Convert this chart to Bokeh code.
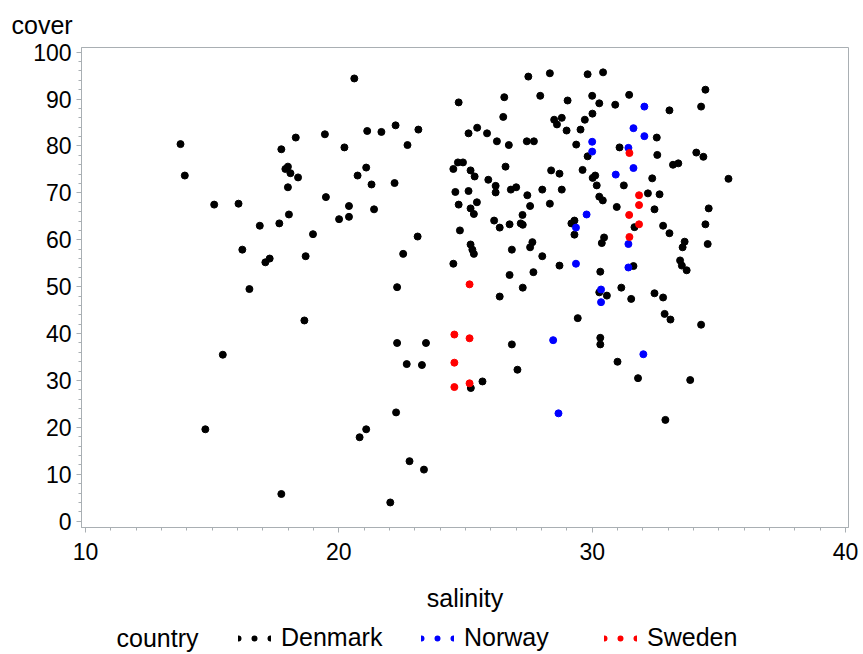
from bokeh.plotting import figure
from bokeh.models import Range1d, FixedTicker, Label, Legend, LegendItem
from bokeh.layouts import column
from bokeh.embed import file_html
from bokeh.resources import INLINE

# ---------------- data ----------------
x_ticks = [10, 20, 30, 40]
y_ticks = [0, 10, 20, 30, 40, 50, 60, 70, 80, 90, 100]
countries = ["Denmark", "Norway", "Sweden"]

dk_salinity = [13.75, 13.92, 15.08, 16.04, 16.88, 17.65, 18.03, 16.19, 17.10, 17.27,
               18.69, 18.98, 19.49, 20.01, 17.73, 18.30, 19.45, 17.89, 17.99, 18.09,
               18.39, 17.99, 16.47, 18.64, 15.42, 14.73, 17.73, 20.61, 24.73, 26.53,
               26.49, 27.48, 28.33, 29.82, 27.95, 29.03, 28.50, 28.61, 28.80, 28.99,
               29.71, 29.54, 21.12, 21.68, 22.24, 23.14, 20.22, 22.71, 25.12, 25.46,
               25.85, 26.24, 26.71, 27.42, 27.70, 29.37, 29.82, 21.08, 20.74, 21.29,
               22.20, 20.40, 20.40, 21.39, 23.11, 22.54, 22.30, 24.70, 24.90, 24.52,
               25.20, 25.36, 25.90, 26.58, 26.19, 26.19, 26.79, 27.00, 27.44, 28.03,
               28.38, 28.71, 28.80, 29.62, 24.60, 25.12, 24.73, 25.20, 25.45, 25.33,
               27.55, 28.33, 27.25, 26.13, 26.35, 26.74, 27.18, 27.26, 24.78, 25.20,
               25.27, 25.33, 26.83, 27.55, 27.64, 28.03, 28.71, 24.52, 26.74, 27.68,
               27.26, 29.18, 29.30, 29.30, 30.32, 30.02, 30.12, 30.18, 30.28, 30.42,
               30.97, 31.25, 31.08, 31.67, 31.63, 30.38, 30.47, 30.43, 30.00, 30.28,
               30.91, 31.46, 30.01, 33.05, 34.47, 34.30, 32.55, 32.57, 34.11, 34.39,
               33.19, 33.40, 32.37, 35.38, 32.20, 32.66, 32.46, 34.60, 32.80, 33.05,
               34.47, 33.65, 33.57, 34.56, 33.47, 33.54, 33.73, 31.15, 30.28, 30.58,
               31.54, 32.46, 32.80, 32.86, 33.09, 34.30, 29.43, 30.32, 30.32, 31.00,
               31.81, 33.87, 32.89, 26.35, 22.30, 23.44, 26.83, 22.68, 23.28, 27.05,
               25.67, 25.21, 22.26, 21.08, 20.82, 22.79, 23.36, 22.03]
dk_cover = [80.4, 73.7, 67.5, 67.7, 63.0, 63.5, 65.4, 57.9, 55.2, 56.0,
            56.5, 61.2, 69.1, 64.4, 79.3, 81.8, 82.5, 75.1, 75.6, 74.2,
            73.3, 71.2, 49.5, 42.8, 35.5, 19.6, 5.8, 94.4, 89.3, 90.4,
            86.2, 94.8, 95.5, 95.3, 90.7, 89.7, 85.6, 84.6, 86.0, 83.3,
            85.6, 83.5, 83.2, 83.0, 84.4, 83.5, 79.7, 80.2, 82.7, 83.9,
            82.7, 81.0, 80.2, 81.0, 81.0, 80.3, 77.8, 75.4, 73.7, 71.8,
            72.1, 67.2, 64.9, 66.5, 60.7, 57.0, 49.9, 76.5, 76.5, 75.1,
            74.8, 73.5, 72.8, 75.6, 71.5, 70.1, 70.7, 71.2, 69.5, 70.7,
            74.8, 74.1, 70.7, 74.9, 70.2, 70.4, 67.5, 66.7, 68.0, 65.5,
            67.2, 67.7, 65.3, 64.1, 62.6, 63.3, 63.5, 63.2, 62.0, 59.0,
            57.9, 57.0, 57.9, 58.4, 59.5, 56.5, 54.5, 54.9, 52.5, 53.1,
            49.8, 63.5, 64.1, 61.1, 53.2, 73.2, 73.7, 71.6, 69.2, 68.4,
            67.0, 71.6, 79.7, 62.7, 54.4, 59.3, 60.5, 95.7, 90.7, 89.1,
            88.8, 90.9, 86.9, 87.6, 92.0, 88.4, 81.8, 78.1, 78.6, 77.7,
            76.0, 76.3, 73.1, 73.0, 69.9, 69.7, 66.5, 66.7, 63.0, 61.4,
            63.3, 59.6, 58.4, 59.1, 55.6, 54.5, 53.5, 49.8, 48.8, 48.1,
            47.4, 48.6, 47.7, 44.2, 43.0, 41.9, 43.3, 39.1, 37.7, 34.0,
            30.5, 30.1, 21.6, 47.9, 38.0, 38.0, 37.7, 33.5, 33.3, 32.3,
            29.8, 28.4, 23.2, 19.6, 17.9, 12.8, 11.0, 4.0]

no_salinity = [30.00, 30.00, 32.06, 31.63, 32.06, 31.43, 31.63, 30.93, 29.78,
               29.36, 29.36, 31.43, 31.43, 30.35, 30.35, 28.46, 32.02, 28.67]
no_cover = [80.9, 78.8, 88.4, 83.8, 82.1, 79.6, 75.3, 73.9, 65.4,
            62.6, 54.9, 59.1, 54.1, 49.4, 46.7, 38.6, 35.6, 23.0]

se_salinity = [31.47, 31.85, 31.85, 31.46, 31.85, 31.47,
               25.16, 24.56, 25.16, 24.56, 24.56, 25.16]
se_cover = [78.5, 69.5, 67.4, 65.3, 63.3, 60.6,
            50.5, 39.8, 39.0, 33.8, 28.6, 29.4]

colors = ["#000000", "#0000FF", "#FF0000"]

# ---------------- main figure ----------------
GRAY = "#A9AFB3"
FONT = "Liberation Sans"

p = figure(width=863, height=618, output_backend="svg", toolbar_location=None,
           x_range=Range1d(9.842, 40.118), y_range=Range1d(-1.34, 101.0),
           min_border_left=81, min_border_right=15, min_border_top=47,
           min_border_bottom=91)
p.grid.visible = False
p.outline_line_color = GRAY
p.outline_line_width = 1
p.background_fill_color = "white"
p.border_fill_color = "white"

# y-axis title shown horizontally at the top-left, like the reference
p.title.text = "cover"
p.title.align = "left"
p.title.offset = -70
p.title.text_font = FONT
p.title.text_font_size = "25px"
p.title.text_font_style = "normal"
p.title.text_color = "#000000"
p.title.standoff = 17

p.xaxis.ticker = FixedTicker(ticks=x_ticks, minor_ticks=list(range(10, 41)))
p.yaxis.ticker = FixedTicker(ticks=y_ticks, minor_ticks=list(range(0, 101, 2)))
for ax in (p.xaxis, p.yaxis):
    ax.axis_line_color = GRAY
    ax.major_tick_line_color = GRAY
    ax.minor_tick_line_color = GRAY
    ax.major_tick_in = 0
    ax.major_tick_out = 5
    ax.minor_tick_in = 0
    ax.minor_tick_out = 3
    ax.major_label_text_font = FONT
    ax.major_label_text_font_size = "23px"
    ax.major_label_text_color = "#000000"
p.xaxis.major_label_standoff = 10
p.yaxis.major_label_standoff = 5
p.xaxis.axis_label = "salinity"
p.xaxis.axis_label_text_font = FONT
p.xaxis.axis_label_text_font_size = "25px"
p.xaxis.axis_label_text_font_style = "normal"
p.xaxis.axis_label_text_color = "#000000"
p.xaxis.axis_label_standoff = 21

sal_lists = [dk_salinity, no_salinity, se_salinity]
cov_lists = [dk_cover, no_cover, se_cover]
for s, c, col in zip(sal_lists, cov_lists, colors):
    p.scatter(s, c, size=7, fill_color=col, line_color=col)

# ---------------- legend strip ----------------
lf = figure(width=863, height=36, output_backend="svg", toolbar_location=None,
            title=None, x_range=Range1d(0, 1), y_range=Range1d(0, 1),
            x_axis_location=None, y_axis_location=None, min_border=0,
            outline_line_color=None)
lf.grid.visible = False
lf.background_fill_color = "white"
lf.border_fill_color = "white"

items = []
for name, s, c, col in zip(countries, sal_lists, cov_lists, colors):
    # dotted line (round dots) used only as the legend swatch; its data lies far outside this strip's range
    r = lf.line(s, c, line_color=col, line_width=6, line_cap="round", line_dash="0 16")
    items.append(LegendItem(label=name, renderers=[r]))

legend = Legend(items=items, orientation="horizontal", location=(157, 2),
                glyph_width=33, glyph_height=20, label_height=20, label_width=140,
                label_standoff=10, spacing=0, padding=0, margin=0,
                border_line_color=None, background_fill_alpha=0,
                label_text_font=FONT, label_text_font_size="25px",
                label_text_color="#000000")
lf.add_layout(legend)
lf.add_layout(Label(x=35, y=17, x_units="screen", y_units="screen", text="country",
                    text_font=FONT, text_font_size="25px", text_baseline="middle",
                    text_align="left", text_color="#000000"))

layout = column(p, lf, spacing=0)
open("out.html", "w").write(file_html(layout, INLINE))
